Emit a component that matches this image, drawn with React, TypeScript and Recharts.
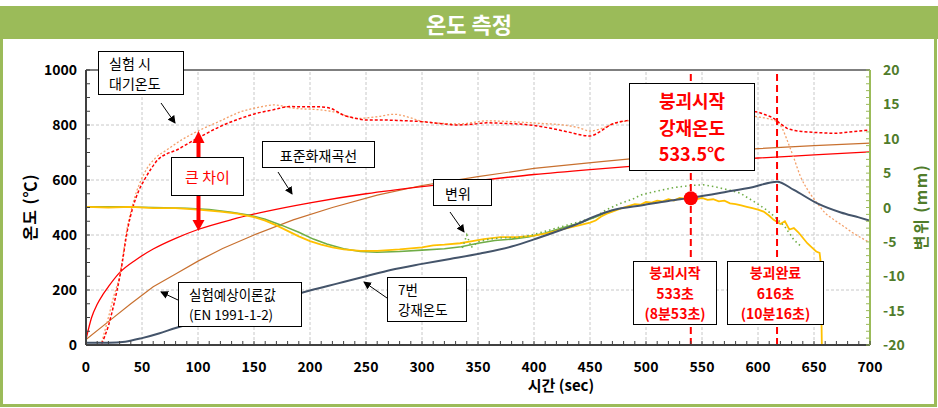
import React from 'react'
import { ComposedChart, Line, XAxis, YAxis, ReferenceLine, ReferenceDot } from 'recharts'

const FONT = '"Noto Sans CJK KR", "Noto Sans", sans-serif'
const FRAME_GREEN = '#9bbb59'
const AXIS_GREEN = '#507c2a'

// axis ticks
const xTicks = [0, 50, 100, 150, 200, 250, 300, 350, 400, 450, 500, 550, 600, 650, 700]
const tempTicks = [0, 200, 400, 600, 800, 1000]
const dispTicks = [-20, -15, -10, -5, 0, 5, 10, 15, 20]
const xMinor = Array.from({ length: 71 }, (_, i) => i * 10)
const tempMinor = Array.from({ length: 21 }, (_, i) => i * 50)
const dispMinor = Array.from({ length: 41 }, (_, i) => i - 20)

// 표준화재곡선 (ISO 834)
const isoTime = [0, 5, 10, 15, 20, 30, 45, 60, 80, 100, 130, 160, 200, 250, 300, 350, 400, 450, 500, 550, 600, 650, 700]
const isoTemp = [20, 100, 148, 183, 212, 263, 311, 349, 388, 420, 456, 485, 517, 550, 576, 598, 620, 638, 654, 668, 680, 691, 702]

// 실험예상이론값 (EN 1991-1-2)
const enTime = [0, 20, 40, 60, 80, 100, 122, 150, 185, 220, 260, 300, 350, 400, 460, 500, 550, 600, 650, 700]
const enTemp = [20, 85, 150, 212, 258, 305, 351, 400, 455, 500, 545, 580, 612, 642, 667, 682, 698, 714, 725, 734]

// 실험 시 대기온도 (two thermocouples)
const airATime = [14, 20, 25, 31, 37, 42, 47, 52, 58, 64, 72, 81, 92, 102, 120, 138, 152, 167, 182, 195, 209, 218, 230, 240, 251, 265, 281, 301, 315, 331, 345, 358, 372, 385, 400, 415, 430, 450, 459, 468, 486, 510, 540, 570, 598, 606, 614, 620, 626, 633, 641, 655, 668, 685, 700]
const airATemp = [5, 70, 150, 266, 418, 503, 560, 600, 640, 673, 695, 709, 735, 757, 795, 824, 842, 855, 867, 866, 866, 861, 836, 825, 818, 818, 816, 812, 806, 800, 803, 808, 806, 804, 798, 788, 775, 760, 776, 800, 818, 830, 838, 845, 848, 838, 824, 805, 788, 780, 776, 772, 770, 776, 782]
const airBTime = [14, 20, 25, 30, 37, 43, 52, 62, 72, 85, 102, 120, 138, 155, 168, 185, 209, 221, 242, 260, 275, 290, 301, 318, 334, 358, 385, 405, 426, 440, 450, 462, 474, 500, 530, 560, 599, 610, 617, 622, 626, 632, 638, 645, 653, 660, 668, 677, 685, 692, 700]
const airBTemp = [10, 100, 180, 250, 430, 530, 624, 680, 709, 745, 782, 815, 848, 865, 873, 861, 855, 848, 824, 830, 839, 826, 812, 806, 804, 815, 811, 806, 800, 790, 778, 790, 808, 822, 838, 842, 830, 822, 812, 785, 745, 680, 612, 560, 515, 480, 455, 430, 407, 390, 372]

// 7번 강재온도
const steelTime = [0, 20, 35, 50, 65, 80, 100, 125, 150, 175, 200, 225, 250, 272, 300, 325, 352, 380, 403, 424, 440, 453, 470, 498, 520, 540, 572, 595, 617, 632, 653, 674, 690, 700]
const steelTemp = [8, 8, 12, 25, 42, 62, 85, 112, 140, 168, 198, 224, 250, 273, 295, 313, 333, 358, 388, 418, 442, 466, 490, 509, 524, 535, 557, 574, 594, 564, 515, 482, 464, 452]

// 변위 (mm)
const dispYTime = [0, 20, 40, 60, 80, 100, 120, 135, 150, 160, 170, 180, 190, 200, 210, 220, 230, 245, 260, 280, 300, 310, 320, 334, 345, 355, 370, 385, 400, 410, 425, 440, 450, 455, 460, 465, 470, 480, 490, 495, 500, 505, 510, 515, 520, 525, 530, 535, 540, 545, 550, 555, 560, 565, 570, 575, 580, 585, 590, 595, 600, 605, 610, 614, 620, 624, 628, 632, 636, 640, 644, 648, 652, 655, 656, 657]
const dispYVal = [0.1, 0.0, 0.1, -0.1, -0.1, -0.3, -0.6, -0.9, -1.4, -1.9, -2.6, -3.4, -4.2, -4.9, -5.4, -5.8, -6.1, -6.3, -6.3, -6.1, -5.8, -5.5, -5.4, -5.2, -4.9, -4.6, -4.3, -4.3, -4.1, -3.8, -3.2, -2.6, -2.2, -1.9, -1.3, -0.9, -0.6, 0.0, 0.5, 0.4, 0.8, 0.7, 1.0, 0.9, 1.2, 1.0, 1.4, 1.3, 1.6, 1.2, 1.4, 1.1, 1.2, 0.9, 1.0, 0.6, 0.5, 0.3, 0.1, -0.1, -0.3, -0.6, -1.2, -1.8, -2.4, -2.0, -3.2, -3.0, -3.6, -4.4, -5.2, -5.8, -6.4, -6.6, -8, -20]
const dispGTime = [0, 30, 60, 90, 110, 130, 145, 160, 175, 190, 203, 215, 230, 245, 260, 280, 300, 320, 335, 350, 365, 380, 395, 410, 425, 440, 455, 470]
const dispGVal = [0.1, 0.1, 0.0, -0.1, -0.3, -0.7, -1.1, -1.7, -2.6, -3.6, -4.6, -5.3, -6.0, -6.4, -6.5, -6.4, -6.2, -6.0, -5.7, -5.2, -4.8, -4.6, -4.3, -3.7, -3.0, -2.3, -1.4, -0.4]
const dispGsTime = [336, 340, 344, 350, 360, 372, 385, 398, 453, 465, 477, 488, 495, 505, 513, 525, 540, 551, 562, 575, 584, 592, 599, 608, 616, 624, 632, 638]
const dispGsVal = [-5.9, -4.0, -5.8, -5.0, -4.6, -4.4, -4.4, -4.0, -1.5, -0.3, 0.6, 1.2, 1.8, 2.2, 2.5, 2.9, 3.2, 3.3, 3.0, 2.5, 2.1, 1.3, 0.6, -0.4, -1.5, -2.8, -4.7, -5.6]

// 붕괴 시점
const collapseTimes = [540, 617]
const collapseStart = { t: 540, temp: 533.5 }

const zip = (ts: number[], vs: number[]) => ts.map((t, i) => ({ t, v: vs[i] }))

const isoData = zip(isoTime, isoTemp)
const enData = zip(enTime, enTemp)
const airAData = zip(airATime, airATemp)
const airBData = zip(airBTime, airBTemp)
const steelData = zip(steelTime, steelTemp)
const dispYData = zip(dispYTime, dispYVal)
const dispGData = zip(dispGTime, dispGVal)
const dispGsData = zip(dispGsTime, dispGsVal)

function XTick({ x, y, payload }: any) {
  const v = payload.value
  return (
    <g>
      <line x1={x} x2={x} y1={y} y2={y - 4} stroke="#404040" />
      {xTicks.includes(v) && (
        <text x={x} y={y + 27} textAnchor="middle" fontSize={14} fontWeight="bold" fill="#000" fontFamily={FONT}>{v}</text>
      )}
    </g>
  )
}

function TempTick({ x, y, payload }: any) {
  const v = payload.value
  return (
    <g>
      <line x1={x} x2={x + 4} y1={y} y2={y} stroke="#404040" />
      {tempTicks.includes(v) && (
        <text x={x - 9} y={y + 5} textAnchor="end" fontSize={14} fontWeight="bold" fill="#000" fontFamily={FONT}>{v}</text>
      )}
    </g>
  )
}

function DispTick({ x, y, payload }: any) {
  const v = payload.value
  return (
    <g>
      <line x1={x} x2={x - 4} y1={y} y2={y} stroke="#9bbb59" />
      {dispTicks.includes(v) && (
        <text x={x + 13} y={y + 5} textAnchor="start" fontSize={14} fontWeight="bold" fill={AXIS_GREEN} fontFamily={FONT}>{v}</text>
      )}
    </g>
  )
}

function Note({ left, top, width, height, lines, color = '#000', size = 14, bold = false, align = 'center', pad = 0, lh }: any) {
  return (
    <div style={{
      position: 'absolute', left, top, width, height, boxSizing: 'border-box',
      border: '1px solid #000', background: '#fff', display: 'flex', flexDirection: 'column',
      justifyContent: 'center', alignItems: align === 'center' ? 'center' : 'flex-start',
      paddingLeft: pad, color, fontSize: size, fontWeight: bold ? 'bold' : 'normal',
      fontFamily: FONT, lineHeight: `${lh ?? size + 4}px`, whiteSpace: 'nowrap',
    }}>
      {lines.map((l: string, i: number) => <div key={i}>{l}</div>)}
    </div>
  )
}

export default function App() {
  return (
    <div style={{ position: 'absolute', left: 0, top: 0, width: 938, height: 408, background: '#fff', fontFamily: FONT }}>
      <div style={{ position: 'absolute', left: 0, top: 36, width: 937, height: 371, boxSizing: 'border-box', border: `3px solid ${FRAME_GREEN}` }} />
      <div style={{
        position: 'absolute', left: 0, top: 6, width: 938, height: 33, background: FRAME_GREEN,
        color: '#fff', fontWeight: 'bold', fontSize: 22, display: 'flex', alignItems: 'center', justifyContent: 'center',
      }}>온도 측정</div>

      <div style={{ position: 'absolute', left: 0, top: 0 }}>
        <ComposedChart width={938} height={408} margin={{ top: 70, right: 0, bottom: 33, left: 0 }}>
          <XAxis dataKey="t" type="number" domain={[0, 700]} ticks={xMinor} interval={0} allowDataOverflow
            height={30} tickSize={0} tickMargin={0} tickLine={false} tick={<XTick />}
            axisLine={{ stroke: '#404040', strokeWidth: 2 }} />
          <YAxis yAxisId="left" type="number" domain={[0, 1000]} ticks={tempMinor} interval={0} allowDataOverflow
            width={86} tickSize={0} tickMargin={0} tickLine={false} tick={<TempTick />}
            axisLine={{ stroke: '#404040', strokeWidth: 2 }} />
          <YAxis yAxisId="right" orientation="right" type="number" domain={[-20, 20]} ticks={dispMinor} interval={0} allowDataOverflow
            width={68} tickSize={0} tickMargin={0} tickLine={false} tick={<DispTick />}
            axisLine={{ stroke: FRAME_GREEN, strokeWidth: 2 }} />

          {xTicks.slice(1, -1).map(v => (
            <ReferenceLine key={'gx' + v} x={v} yAxisId="left" stroke="#c8c8c8" strokeDasharray="3 2" />
          ))}
          {tempTicks.slice(1, -1).map(v => (
            <ReferenceLine key={'gy' + v} y={v} yAxisId="left" stroke="#c8c8c8" strokeDasharray="3 2" />
          ))}
          <ReferenceLine y={1000} yAxisId="left" stroke="#7f7f7f" strokeWidth={2} />

          <Line data={enData} dataKey="v" yAxisId="left" type="linear" stroke="#c8702f" strokeWidth={1.2} dot={false} isAnimationActive={false} />
          <Line data={isoData} dataKey="v" yAxisId="left" type="monotone" stroke="#ff0000" strokeWidth={1.3} dot={false} isAnimationActive={false} />
          <Line data={airBData} dataKey="v" yAxisId="left" type="monotone" stroke="#f4a06a" strokeWidth={1.3} strokeDasharray="2 2" dot={false} isAnimationActive={false} />
          <Line data={airAData} dataKey="v" yAxisId="left" type="monotone" stroke="#ff0000" strokeWidth={1.5} strokeDasharray="3 2" dot={false} isAnimationActive={false} />
          <Line data={dispGData} dataKey="v" yAxisId="right" type="linear" stroke="#70ad47" strokeWidth={1.6} dot={false} isAnimationActive={false} />
          <Line data={dispYData} dataKey="v" yAxisId="right" type="linear" stroke="#ffc000" strokeWidth={1.8} dot={false} isAnimationActive={false} />
          <Line data={dispGsData} dataKey="v" yAxisId="right" type="linear" stroke="#70ad47" strokeWidth={1.6} strokeDasharray="1.5 3" dot={false} isAnimationActive={false} />
          <Line data={steelData} dataKey="v" yAxisId="left" type="monotone" stroke="#44546a" strokeWidth={2} dot={false} isAnimationActive={false} />

          {collapseTimes.map(t => (
            <ReferenceLine key={'c' + t} x={t} yAxisId="left" stroke="#ff0000" strokeWidth={2} strokeDasharray="7 4" />
          ))}
          <ReferenceDot x={collapseStart.t} y={collapseStart.temp} yAxisId="left" r={7} fill="#ff0000" stroke="none" />
        </ComposedChart>
      </div>

      <svg width={938} height={408} style={{ position: 'absolute', left: 0, top: 0, pointerEvents: 'none' }}>
        <defs>
          <marker id="ah" markerWidth="8" markerHeight="8" refX="7" refY="4" orient="auto" markerUnits="userSpaceOnUse">
            <path d="M0,0 L8,4 L0,8 Z" fill="#000" />
          </marker>
        </defs>
        <line x1={161} y1={103} x2={175} y2={123} stroke="#000" strokeWidth={1} markerEnd="url(#ah)" />
        <line x1={278} y1={172} x2={292} y2={194} stroke="#000" strokeWidth={1} markerEnd="url(#ah)" />
        <line x1={450} y1={212} x2={464} y2={232} stroke="#000" strokeWidth={1} markerEnd="url(#ah)" />
        <line x1={178} y1={300} x2={161} y2={292} stroke="#000" strokeWidth={1} markerEnd="url(#ah)" />
        <line x1={387} y1={298} x2={364} y2={282} stroke="#000" strokeWidth={1} markerEnd="url(#ah)" />
        {/* 큰 차이 double arrow */}
        <rect x={196.5} y={142} width={4} height={16} fill="#ff0000" />
        <polygon points="192.5,143 204.5,143 198.5,131" fill="#ff0000" />
        <rect x={196.5} y={195} width={4} height={26} fill="#ff0000" />
        <polygon points="192.5,220 204.5,220 198.5,231" fill="#ff0000" />

        <text x={0} y={0} transform="translate(36,207) rotate(-90)" textAnchor="middle" fontSize={16} fontWeight="bold" letterSpacing={1} fill="#000" fontFamily={FONT}>온도 (℃)</text>
        <text x={0} y={0} transform="translate(927,207) rotate(-90)" textAnchor="middle" fontSize={16} fontWeight={600} letterSpacing={1.5} fill={AXIS_GREEN} fontFamily={FONT}>변위 (mm)</text>
        <text x={561} y={391} textAnchor="middle" fontSize={15} fontWeight="bold" fill="#000" fontFamily={FONT}>시간 (sec)</text>
      </svg>

      <Note left={98} top={51} width={86} height={44} lines={['실험 시', '대기온도']} align="left" pad={10} lh={20.5} />
      <Note left={171} top={157} width={73} height={39} lines={['큰 차이']} color="#ff0000" size={15} />
      <Note left={262} top={141} width={113} height={27} lines={['표준화재곡선']} />
      <Note left={433} top={179} width={59} height={27} lines={['변위']} align="left" pad={11} />
      <Note left={629} top={83} width={126} height={88} lines={['붕괴시작', '강재온도', '533.5℃']} color="#ff0000" size={18} bold lh={26.5} />
      <Note left={178} top={282} width={124} height={45} lines={['실험예상이론값', '(EN 1991-1-2)']} align="left" pad={10} size={13.5} lh={19.6} />
      <Note left={387} top={277} width={80} height={45} lines={['7번', '강재온도']} align="left" pad={10} size={13.5} lh={19.6} />
      <Note left={633} top={261} width={84} height={64} lines={['붕괴시작', '533초', '(8분53초)']} color="#ff0000" size={14} bold lh={20.5} />
      <Note left={727} top={261} width={97} height={64} lines={['붕괴완료', '616초', '(10분16초)']} color="#ff0000" size={14} bold lh={20.5} />
    </div>
  )
}
